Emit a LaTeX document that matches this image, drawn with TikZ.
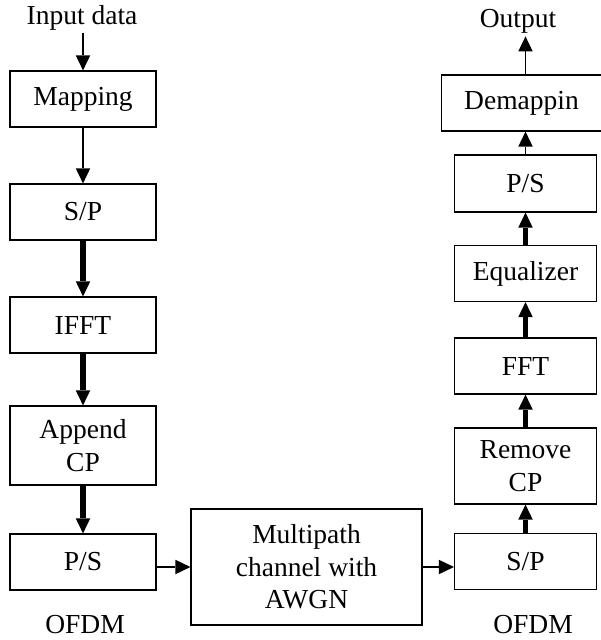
\documentclass[tikz,border=0pt]{standalone}
\usepackage{fontspec}
\setmainfont{Liberation Serif}
\usetikzlibrary{arrows.meta}

\begin{document}
\begin{tikzpicture}[x=1pt,y=-1pt,>={Triangle[length=15pt,width=14.5pt,line width=0pt]},
	font=\fontsize{27.5}{32.5}\selectfont,
	block/.style={rectangle,draw,line width=1.2pt,minimum width=146pt,minimum height=56pt,align=center,inner sep=0pt},
	thin link/.style={->,line width=1.3pt},
	fat link/.style={->,line width=5.5pt}]

	\useasboundingbox (0,0) rectangle (600,640);

	% transmitter side
	\node[anchor=base] (in) at (82,24) {Input data};
	\node[block] (map) at (83,99) {Mapping};
	\node[block] (sp1) at (83,212) {S/P};
	\node[block] (ifft) at (83,325) {IFFT};
	\node[block,minimum height=79pt] (cp1) at (83,445.5) {Append\\CP};
	\node[block] (ps1) at (83,562) {P/S};
	\node[anchor=base] (tx) at (85,633) {OFDM};

	% channel
	\node[block,minimum width=231pt,minimum height=116pt] (chan) at (306.5,567) {Multipath\\channel with\\AWGN};

	% receiver side
	\node[block,minimum width=142pt] (sp2) at (525.5,561.5) {S/P};
	\node[block,minimum width=142pt,minimum height=76pt] (cp2) at (525.5,466) {Remove\\CP};
	\node[block,minimum width=142pt] (fft) at (525.5,366) {FFT};
	\node[block,minimum width=142pt] (eq) at (525.5,273.5) {Equalizer};
	\node[block,minimum width=142pt,minimum height=57pt] (ps2) at (525.5,183.5) {P/S};
	\node[block,minimum width=160pt] (demap) at (521.5,103) {Demappin};
	\node[anchor=base] (out) at (518,27) {Output};
	\node[anchor=base] (rx) at (533,633) {OFDM};

	\path
	(in.south -| map) edge[thin link] (map.north)
	(map) edge[thin link] (sp1)
	(sp1) edge[fat link] (ifft)
	(ifft) edge[fat link] (cp1)
	(cp1) edge[fat link] (ps1)
	(ps1.east |- chan.west) edge[thin link] (chan.west)
	(chan.east) edge[thin link] (sp2.west |- chan.east)
	(sp2) edge[fat link] (cp2)
	(cp2) edge[fat link] (fft)
	(fft) edge[fat link] (eq)
	(eq) edge[fat link] (ps2)
	(ps2.north) edge[thin link] (ps2.north |- demap.south)
	(ps2.north |- demap.north) edge[thin link] (ps2.north |- out.south);
\end{tikzpicture}
\end{document}
